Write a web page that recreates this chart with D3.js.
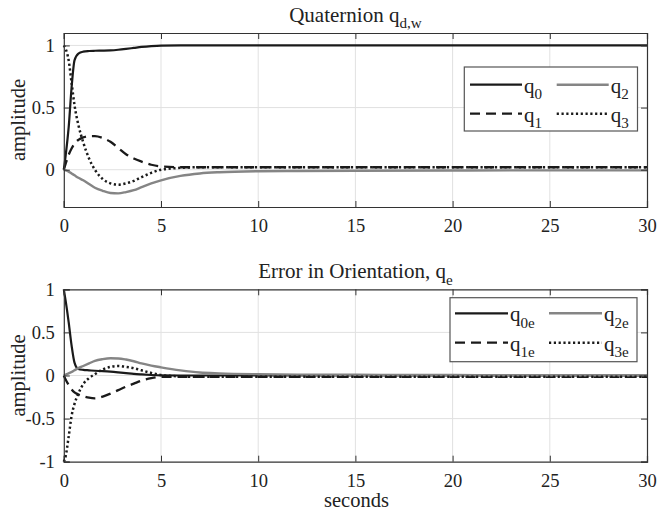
<!DOCTYPE html>
<html><head><meta charset="utf-8">
<script src="https://cdn.jsdelivr.net/npm/d3@7"></script>
<style>body{margin:0;background:#fff}svg{display:block}</style>
</head><body>
<svg id="c" width="672" height="511"></svg>
<script>
// ---- data ----
const time = [0,0.1,0.25,0.4,0.55,0.75,1.0,1.3,1.6,2.0,2.4,2.8,3.2,3.6,4.0,4.5,5,6,7,8,10,12,15,20,25,30];
const q0  = [0,0.12,0.34,0.66,0.88,0.935,0.95,0.955,0.957,0.958,0.96,0.965,0.972,0.98,0.988,0.995,0.999,1,1,1,1,1,1,1,1,1];
const q1  = [0,0.05,0.12,0.17,0.21,0.24,0.26,0.27,0.27,0.255,0.225,0.175,0.125,0.09,0.065,0.04,0.026,0.02,0.02,0.02,0.02,0.02,0.02,0.02,0.02,0.02];
const q2  = [0,-0.005,-0.015,-0.03,-0.045,-0.065,-0.085,-0.115,-0.145,-0.17,-0.187,-0.19,-0.18,-0.165,-0.14,-0.11,-0.085,-0.05,-0.03,-0.02,-0.012,-0.01,-0.008,-0.006,-0.005,-0.005];
const q3  = [1,0.97,0.88,0.7,0.52,0.36,0.22,0.09,0.0,-0.075,-0.11,-0.12,-0.11,-0.09,-0.06,-0.025,0.0,0.015,0.02,0.02,0.02,0.02,0.02,0.02,0.02,0.02];
const q0e = [1,0.86,0.62,0.35,0.15,0.075,0.065,0.06,0.055,0.05,0.044,0.036,0.027,0.018,0.012,0.006,0.002,0,0,0,0,0,0,0,0,0];
const q1e = [0,-0.05,-0.11,-0.16,-0.195,-0.22,-0.24,-0.258,-0.265,-0.245,-0.21,-0.17,-0.13,-0.095,-0.06,-0.03,-0.015,-0.015,-0.015,-0.015,-0.015,-0.015,-0.015,-0.015,-0.015,-0.015];
const q2e = [0,0.01,0.025,0.04,0.06,0.085,0.11,0.14,0.17,0.19,0.2,0.198,0.185,0.165,0.14,0.115,0.095,0.06,0.035,0.025,0.015,0.01,0.008,0.005,0.003,0.003];
const q3e = [-1,-0.93,-0.71,-0.47,-0.33,-0.21,-0.1,-0.03,0.015,0.07,0.1,0.11,0.1,0.085,0.06,0.03,0.005,-0.01,-0.015,-0.015,-0.015,-0.015,-0.015,-0.015,-0.015,-0.015];
const xTicks = [0,5,10,15,20,25,30];
const yTicksTop = [0,0.5,1];
const yTicksBot = [-1,-0.5,0,0.5,1];

// ---- styles ----
const FONT = "'Liberation Serif','Times New Roman',serif";
const TICK_FS = 18.5, TITLE_FS = 21, LABEL_FS = 20.5, LEG_FS = 21;
const styles = {
  solid:  {stroke:"#1a1a1a", width:2.2, dash:null},
  grey:   {stroke:"#858585", width:2.4, dash:null},
  dashed: {stroke:"#1a1a1a", width:2.3, dash:"10,6"},
  dotted: {stroke:"#1a1a1a", width:2.5, dash:"2.2,2.6"}
};

const svg = d3.select("#c");
const x = d3.scaleLinear().domain([0,30]).range([63.8,647]);

function sub(textSel, main, subscript, size){
  textSel.append("tspan").text(main);
  textSel.append("tspan").attr("dy", size*0.3).attr("font-size", size*0.72).text(subscript);
}

function panel(cfg){
  const y = d3.scaleLinear().domain(cfg.ydom).range([cfg.bottom, cfg.top]);
  const g = svg.append("g");
  // grid
  g.append("g").selectAll("line").data(xTicks.slice(1,-1)).join("line")
    .attr("x1", d=>x(d)).attr("x2", d=>x(d)).attr("y1", cfg.top).attr("y2", cfg.bottom)
    .attr("stroke", "#e1e1e1").attr("stroke-width", 1);
  g.append("g").selectAll("line").data(cfg.yticks.filter(d=>d>cfg.ydom[0] && d<cfg.ydom[1])).join("line")
    .attr("x1", x(0)).attr("x2", x(30)).attr("y1", d=>y(d)).attr("y2", d=>y(d))
    .attr("stroke", "#e1e1e1").attr("stroke-width", 1);
  // lines
  cfg.series.forEach(s=>{
    const st = styles[s.style];
    const line = d3.line().x((d,i)=>x(time[i])).y(d=>y(d)).curve(d3.curveMonotoneX);
    g.append("path").attr("d", line(s.values)).attr("fill","none")
      .attr("stroke", st.stroke).attr("stroke-width", st.width)
      .attr("stroke-dasharray", st.dash).attr("stroke-linejoin","round");
  });
  // axes
  const ax = g.append("g").attr("font-family", FONT);
  const bottomAxis = d3.axisBottom(x).tickValues(xTicks).tickSize(-6).tickPadding(12).tickFormat(d=>String(d));
  const topAxis = d3.axisTop(x).tickValues(xTicks).tickSize(-6).tickFormat("");
  const leftAxis = d3.axisLeft(y).tickValues(cfg.yticks).tickSize(-6).tickPadding(9).tickFormat(d=>String(d));
  const rightAxis = d3.axisRight(y).tickValues(cfg.yticks).tickSize(-6).tickFormat("");
  [[bottomAxis,`translate(0,${cfg.bottom})`],[topAxis,`translate(0,${cfg.top})`],
   [leftAxis,`translate(${x(0)},0)`],[rightAxis,`translate(${x(30)},0)`]].forEach(([a,t])=>{
    const s = ax.append("g").attr("transform", t).call(a);
    s.select(".domain").attr("stroke","#333").attr("stroke-width",1.2);
    s.selectAll(".tick line").attr("stroke","#333");
    s.selectAll("text").attr("font-family", FONT).attr("font-size", TICK_FS).attr("fill","#222");
  });
  // title
  const t = g.append("text").attr("x", (x(0)+x(30))/2).attr("y", cfg.top-11)
    .attr("text-anchor","middle").attr("font-family", FONT).attr("font-size", TITLE_FS).attr("fill","#222");
  sub(t, cfg.title, cfg.titleSub, TITLE_FS);
  // y label
  g.append("text").attr("transform", `translate(25,${(cfg.top+cfg.bottom)/2}) rotate(-90)`)
    .attr("text-anchor","middle").attr("font-family", FONT).attr("font-size", LABEL_FS).attr("fill","#222")
    .text("amplitude");
  // legend
  const L = cfg.legend;
  g.append("rect").attr("x", L.x).attr("y", L.y).attr("width", L.w).attr("height", L.h)
    .attr("fill","#fff").attr("stroke","#555").attr("stroke-width",1.2);
  cfg.series.forEach(s=>{
    const st = styles[s.style];
    const cx = L.x + L.colX[s.col], cy = L.y + L.rowY[s.row];
    g.append("line").attr("x1", cx).attr("x2", cx+L.lineLen).attr("y1", cy).attr("y2", cy)
      .attr("stroke", st.stroke).attr("stroke-width", st.width).attr("stroke-dasharray", st.dash);
    const tx = g.append("text").attr("x", cx+L.lineLen+2).attr("y", cy+8)
      .attr("font-family", FONT).attr("font-size", LEG_FS).attr("fill","#222");
    sub(tx, "q", s.sub, LEG_FS);
  });
}

panel({
  top:33, bottom:207, ydom:[-0.3,1.1], yticks:yTicksTop,
  title:"Quaternion q", titleSub:"d,w",
  series:[
    {values:q0, style:"solid", sub:"0", row:0, col:0},
    {values:q1, style:"dashed", sub:"1", row:1, col:0},
    {values:q2, style:"grey", sub:"2", row:0, col:1},
    {values:q3, style:"dotted", sub:"3", row:1, col:1}
  ],
  legend:{x:464.3, y:67, w:173.2, h:64, colX:[5.7,92.4], rowY:[17.7,46.7], lineLen:52}
});
panel({
  top:289.3, bottom:461.7, ydom:[-1,1], yticks:yTicksBot,
  title:"Error in Orientation, q", titleSub:"e",
  series:[
    {values:q0e, style:"solid", sub:"0e", row:0, col:0},
    {values:q1e, style:"dashed", sub:"1e", row:1, col:0},
    {values:q2e, style:"grey", sub:"2e", row:0, col:1},
    {values:q3e, style:"dotted", sub:"3e", row:1, col:1}
  ],
  legend:{x:450, y:297.7, w:187, h:64, colX:[5,99], rowY:[15.6,45], lineLen:53}
});
// x label
svg.append("text").attr("x", 356.5).attr("y", 507).attr("text-anchor","middle")
  .attr("font-family", FONT).attr("font-size", LABEL_FS).attr("fill","#222").text("seconds");
</script>
</body></html>
